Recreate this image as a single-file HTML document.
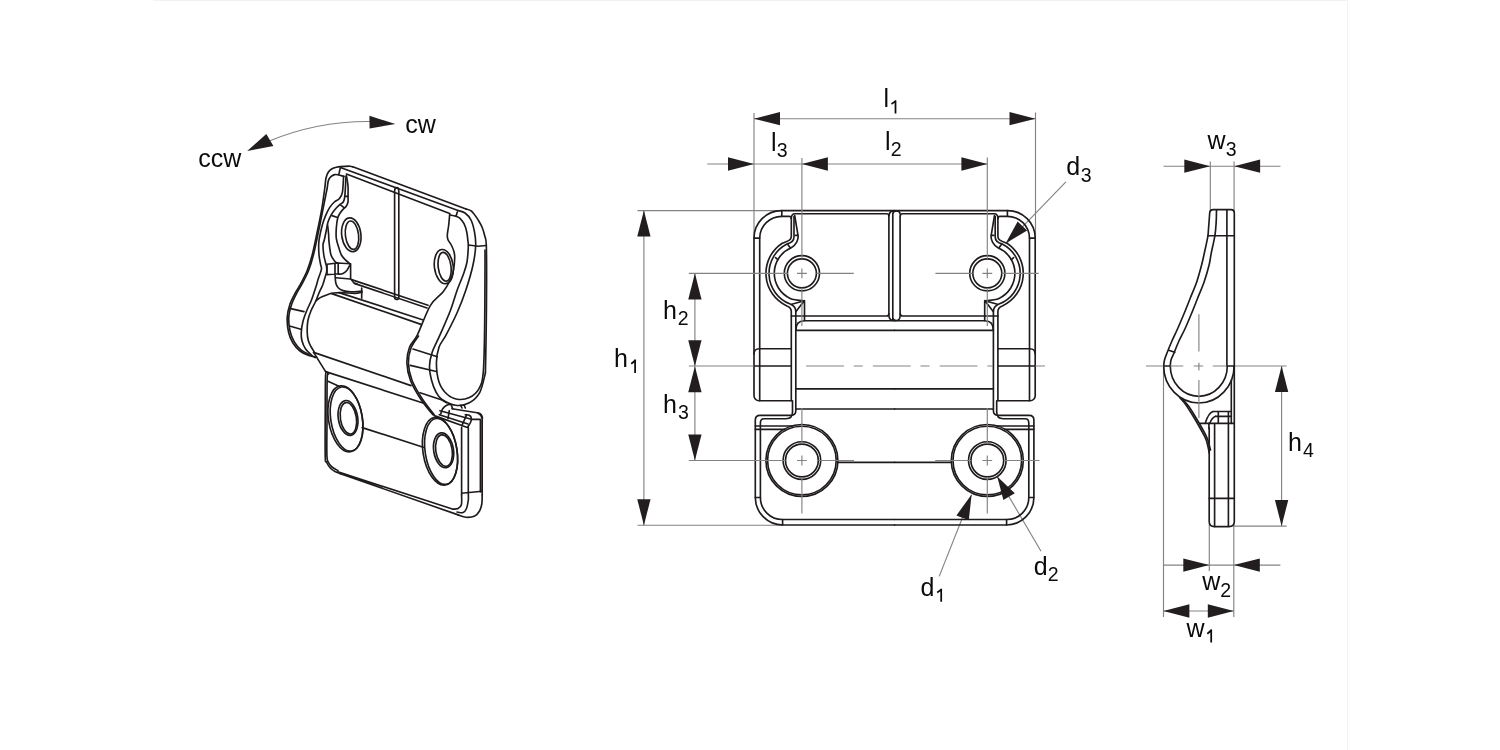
<!DOCTYPE html>
<html><head><meta charset="utf-8"><title>Hinge drawing</title><style>
html,body{margin:0;padding:0;background:#fff;}
body{width:1500px;height:750px;overflow:hidden;position:relative;}
svg{position:absolute;left:0;top:0;will-change:transform;}
.k{fill:none;stroke:#1f1b1c;stroke-width:1.65;stroke-linecap:round;stroke-linejoin:round;}
.g{fill:none;stroke:#838383;stroke-width:1.15;}
.a{fill:#221e1f;stroke:none;}
text{font-family:"Liberation Sans",sans-serif;font-size:25px;fill:#0d0a0b;}
text.w{font-size:25px;}
.one{fill:none;stroke:#0d0a0b;stroke-width:1.75;}
text.s{font-size:19.5px;}
text.r{font-size:25px;}
.frame{position:absolute;left:153px;top:0;width:1194px;height:1px;background:#f2f2f2;}
.frame2{position:absolute;left:1347px;top:0;width:1px;height:750px;background:#f3f3f3;}
</style></head>
<body><div class="frame"></div><div class="frame2"></div>
<svg width="1500" height="750" viewBox="0 0 1500 750">
<g id="dims"><line class="g" x1="754.00" y1="118.70" x2="1035.50" y2="118.70"/>
<line class="g" x1="754.00" y1="113.00" x2="754.00" y2="238.00"/>
<line class="g" x1="1035.50" y1="112.50" x2="1035.50" y2="238.00"/>
<polygon class="a" points="754.00,118.70 780.00,112.05 780.00,125.35"/>
<polygon class="a" points="1035.50,118.70 1009.50,125.35 1009.50,112.05"/>
<line class="g" x1="707.30" y1="164.00" x2="987.40" y2="164.00"/>
<polygon class="a" points="754.00,164.00 728.00,170.65 728.00,157.35"/>
<polygon class="a" points="801.90,164.00 827.90,157.35 827.90,170.65"/>
<polygon class="a" points="987.40,164.00 961.40,170.65 961.40,157.35"/>
<line class="g" x1="643.90" y1="210.50" x2="643.90" y2="525.50"/>
<line class="g" x1="637.50" y1="210.60" x2="781.50" y2="210.60"/>
<line class="g" x1="637.50" y1="525.20" x2="782.80" y2="525.20"/>
<polygon class="a" points="643.90,210.60 650.55,236.60 637.25,236.60"/>
<polygon class="a" points="643.90,525.20 637.25,499.20 650.55,499.20"/>
<line class="g" x1="694.90" y1="273.30" x2="694.90" y2="460.50"/>
<polygon class="a" points="694.90,273.30 701.55,299.50 688.25,299.50"/>
<polygon class="a" points="694.90,366.30 688.25,340.30 701.55,340.30"/>
<polygon class="a" points="694.90,366.30 701.55,392.30 688.25,392.30"/>
<polygon class="a" points="694.90,460.50 688.25,434.50 701.55,434.50"/>
<line class="g" x1="1065.90" y1="181.80" x2="1006.50" y2="243.40"/>
<polygon class="a" points="1005.70,243.30 1017.62,221.38 1027.18,230.62"/>
<line class="g" x1="939.20" y1="576.40" x2="971.60" y2="494.60"/>
<polygon class="a" points="971.60,494.60 968.80,520.21 956.40,515.39"/>
<line class="g" x1="1041.00" y1="551.20" x2="997.20" y2="476.60"/>
<polygon class="a" points="997.20,476.60 1014.81,493.20 1003.39,500.00"/>
<line class="g" x1="1163.60" y1="166.20" x2="1280.50" y2="166.20"/>
<polygon class="a" points="1210.30,166.20 1184.30,172.85 1184.30,159.55"/>
<polygon class="a" points="1234.10,166.20 1260.10,159.55 1260.10,172.85"/>
<line class="g" x1="1210.30" y1="161.40" x2="1210.30" y2="212.00"/>
<line class="g" x1="1234.10" y1="161.40" x2="1234.10" y2="212.00"/>
<line class="g" x1="1163.40" y1="565.10" x2="1280.40" y2="565.10"/>
<polygon class="a" points="1209.30,565.10 1183.30,571.75 1183.30,558.45"/>
<polygon class="a" points="1233.80,565.10 1259.80,558.45 1259.80,571.75"/>
<line class="g" x1="1163.40" y1="611.00" x2="1233.80" y2="611.00"/>
<polygon class="a" points="1163.40,611.00 1189.40,604.35 1189.40,617.65"/>
<polygon class="a" points="1233.80,611.00 1207.80,617.65 1207.80,604.35"/>
<line class="g" x1="1163.50" y1="366.00" x2="1163.50" y2="617.00"/>
<line class="g" x1="1209.30" y1="524.00" x2="1209.30" y2="571.00"/>
<line class="g" x1="1233.80" y1="524.00" x2="1233.80" y2="617.00"/>
<line class="g" x1="1281.60" y1="366.00" x2="1281.60" y2="526.10"/>
<polygon class="a" points="1281.60,366.00 1288.25,392.00 1274.95,392.00"/>
<polygon class="a" points="1281.60,526.10 1274.95,500.10 1288.25,500.10"/>
<line class="g" x1="1234.00" y1="526.10" x2="1286.60" y2="526.10"/>
<line class="g" x1="1234.00" y1="366.00" x2="1286.60" y2="366.00"/>
<path class="g" d="M268,141.5 C300,128 335,121 372,121.5"/>
<polygon class="a" points="247.2,150.9 266.3,134.1 273.4,145.9"/>
<polygon class="a" points="395.4,124.1 369.4,115.7 369.6,128.4"/></g>
<g id="front"><g id="FL"><path class="k" d="M894.6,210.6 H781.5 A27.5,27.5 0 0 0 754,238.1 V395.7 A5,5 0 0 0 759,400.7 H791.3"/><path class="k" d="M754,238.1 H759.7 M781.8,210.6 V216.3"/><path class="k" d="M759.7,400.7 V238.1 A22,22 0 0 1 781.7,216.3 H789.3 Q791.3,216.3 791.3,218.5"/><path class="k" d="M791.3,218.5 Q791.3,213.7 795,213.7 H886.6 Q888.9,213.7 888.9,216"/><path class="k" d="M791.3,218.5 V236.5 C791.3,240.5 787.5,241.2 782.2,243.2 A36,36 0 0 0 786.9,306 C789.5,307 791.3,308 791.3,311.5 V400.7"/><path class="k" d="M794,216.5 V236.7 C794,240.5 791,243 787,243.9 A33,33 0 0 0 790.2,304.1 C793.7,305.5 795.8,308 795.8,311.7 V410.7 Q795.8,415.3 791,415.3 H760 Q755.3,415.3 755.3,420 V497.5 A27.5,27.5 0 0 0 782.8,525 H894.6"/><path class="k" d="M794.7,215.5 L798,235.3 C798.8,239.5 796,245 791.2,247.8 A27.7,27.7 0 0 0 790.25,298.4 C793,299.8 798,300.2 804.3,300.7"/><path class="k" d="M791.8,304.2 L804.3,300.7 L795.8,311.7 M804.5,300.7 V320.7"/><path class="k" d="M795.3,235.3 H797.9 M788,244.7 L790,247.5 M775.6,257.6 L777.8,259.6"/><path class="k" d="M791.3,316 H886.6 Q888.9,316 888.9,313.7"/><path class="k" d="M795.8,330.3 Q795.8,320.7 804.5,320.7 H894.6 M795.8,330.3 H894.6"/><path class="k" d="M795.8,388.8 H894.6 M795.8,409 H894.6"/><path class="k" d="M754,354 Q754,348.7 759.3,348.7 H791.3 M754,366 H791.3"/><path class="k" d="M792.5,400.7 V412 Q792.5,418.7 786,418.7 H764 Q760.4,418.7 760.4,423 V497.5 A22,22 0 0 0 782.4,519.5 H894.6"/><path class="k" d="M755.3,426 H792.8 M755.3,429.3 H784.7"/><path class="k" d="M755.3,497.5 H760.4 M782.6,519.5 V525"/><circle class="k" cx="801.9" cy="273.3" r="17.6"/><circle class="k" cx="801.9" cy="273.3" r="14.5"/><circle class="k" cx="801.9" cy="460.5" r="36"/><circle class="k" cx="801.9" cy="460.5" r="34.3"/><circle class="k" cx="801.9" cy="460.5" r="18.8"/><circle class="k" cx="801.9" cy="460.5" r="16.4"/><path class="k" d="M837.9,462.3 H894.6"/><path class="g" d="M797,273.3 H806.8 M801.9,268.4 V278.2 M816.5,273.3 H853.8 M801.9,287.8 V326"/><path class="g" d="M797,460.5 H806.8 M801.9,455.6 V465.4 M818.3,460.5 H854 M801.9,408 V444 M801.9,477 V513.4"/><path class="g" d="M787.3,273.3 H784"/></g>
<use href="#FL" transform="matrix(-1 0 0 1 1789.2 0)"/>
<path class="k" d="M888.9,316 V216 Q889.3,211.5 892.8,211 M892.8,320.3 V213.8 Q893.5,210.9 896.5,210.9 Q899.8,210.9 900.1,214 M900.1,216 V316 M888.9,316 Q889.5,320.3 892.8,320.5 M892.8,318 Q893.5,320.5 896.5,320.5 Q899.8,320.5 900.1,316"/>
<path class="g" d="M688.8,273.3 H787.7 M801.9,158 V258.8"/>
<path class="g" d="M1001.7,273.3 H1038.7 M987.3,157.6 V258.8"/>
<path class="g" d="M688.8,460.5 H785.5 M1004,460.5 H1039.6"/>
<path class="g" d="M688.8,366 H754 M1035.2,366 H1045"/>
<path class="g" stroke-dasharray="37.8 9.8 9.1 10.1" d="M806.1,366 H993"/></g>
<g id="side"><path class="k" d="M1208,235.7 L1209.7,213 Q1209.9,209.6 1213.2,209.6 H1231 Q1234.3,209.6 1234.3,213 V521.5 Q1234.3,526.6 1229,526.6 H1214.5 Q1209.2,526.6 1209.2,521.5 V428"/>
<path class="k" d="M1216.5,210 Q1216.4,226 1214.9,235.7 M1226.9,210 V366"/>
<path class="k" d="M1208.7,235.7 H1234.3"/>
<path class="k" d="M1208.00,235.70 C1207.73,237.03 1207.02,240.77 1206.40,243.70 C1205.78,246.63 1205.10,249.75 1204.30,253.30 C1203.50,256.85 1202.87,260.22 1201.60,265.00 C1200.33,269.78 1198.58,276.50 1196.70,282.00 C1194.82,287.50 1192.43,292.67 1190.30,298.00 C1188.17,303.33 1186.03,308.83 1183.90,314.00 C1181.77,319.17 1179.57,324.33 1177.50,329.00 C1175.43,333.67 1173.25,338.00 1171.50,342.00 C1169.75,346.00 1168.17,350.00 1167.00,353.00 C1165.83,356.00 1165.05,357.83 1164.50,360.00 C1163.95,362.17 1163.83,365.00 1163.70,366.00 A35.2,37 0 0 0 1234.1,366"/>
<path class="k" d="M1214.90,235.70 C1214.63,237.03 1213.92,240.77 1213.30,243.70 C1212.68,246.63 1211.90,249.75 1211.20,253.30 C1210.50,256.85 1210.28,260.22 1209.10,265.00 C1207.92,269.78 1206.00,276.50 1204.10,282.00 C1202.20,287.50 1199.83,292.67 1197.70,298.00 C1195.57,303.33 1193.43,308.83 1191.30,314.00 C1189.17,319.17 1187.03,324.33 1184.90,329.00 C1182.77,333.67 1180.32,338.00 1178.50,342.00 C1176.68,346.00 1175.25,350.00 1174.00,353.00 C1172.75,356.00 1171.62,357.83 1171.00,360.00 C1170.38,362.17 1170.42,365.00 1170.30,366.00 A28.5,30.3 0 0 0 1227.3,366"/>
<path class="k" d="M1168.7,350.3 L1174.8,352.3"/>
<path class="k" d="M1231.3,380 V423.3"/>
<path class="k" d="M1180.10,398.00 C1181.08,399.15 1183.77,401.78 1186.00,404.90 C1188.23,408.02 1191.02,412.60 1193.50,416.70 C1195.98,420.80 1198.77,425.60 1200.90,429.50 C1203.03,433.40 1204.90,436.18 1206.30,440.10 C1207.70,444.02 1208.80,450.85 1209.30,453.00"/>
<path class="k" d="M1182.50,399.50 C1183.50,400.58 1186.33,403.08 1188.50,406.00 C1190.67,408.92 1193.17,413.17 1195.50,417.00 C1197.83,420.83 1200.50,425.33 1202.50,429.00 C1204.50,432.67 1206.17,435.50 1207.50,439.00 C1208.83,442.50 1210.00,448.17 1210.50,450.00"/>
<path class="k" d="M1213,411.5 H1231.3 M1215.7,416.3 H1231.3 M1199.9,423.3 H1234 M1218.3,411.5 V423.3 M1228.4,411.5 V526 M1214.6,423.3 V526.6"/>
<path class="k" d="M1213,411.5 Q1208.5,413 1205.5,422.5 M1215.7,416.3 Q1212,417.5 1209.8,423.3 M1208.9,423.3 V428.5"/>
<path class="k" d="M1226.9,366 H1234 M1163.7,366 H1170.3"/>
<path class="k" d="M1209.2,498.4 H1233.8"/>
<path class="g" d="M1146,366 H1163.4 M1170.3,366 H1183.3 M1193.7,366 H1203.2 M1212.8,366 H1226.9 M1198.9,314.3 V351.5 M1198.9,362.8 V370.5 M1198.9,380 V418"/></g>
<g id="iso"><path class="k" d="M316.80,357.20 C315.47,356.93 311.60,356.63 308.80,355.60 C306.00,354.57 302.67,353.13 300.00,351.00 C297.33,348.87 294.72,345.97 292.80,342.80 C290.88,339.63 289.43,336.27 288.50,332.00 C287.57,327.73 286.95,321.87 287.20,317.20 C287.45,312.53 288.70,307.97 290.00,304.00 C291.30,300.03 293.37,296.50 295.00,293.40 C296.63,290.30 297.80,289.13 299.80,285.40 C301.80,281.67 304.93,276.07 307.00,271.00 C309.07,265.93 310.43,261.83 312.20,255.00 C313.97,248.17 316.03,237.50 317.60,230.00 C319.17,222.50 320.40,217.00 321.60,210.00 C322.80,203.00 324.07,193.33 324.80,188.00 C325.53,182.67 325.40,180.67 326.00,178.00 C326.60,175.33 327.40,173.53 328.40,172.00 C329.40,170.47 330.67,169.60 332.00,168.80 C333.33,168.00 335.00,167.57 336.40,167.20 C337.80,166.83 338.13,166.77 340.40,166.60 C342.67,166.43 347.93,166.17 350.00,166.20 C352.07,166.23 352.33,166.70 352.80,166.80"/>
<path class="k" d="M352.8,166.8 L466,209"/>
<path class="k" d="M466.00,209.00 C466.88,209.33 469.75,209.88 471.30,211.00 C472.85,212.12 474.18,214.25 475.30,215.70 C476.42,217.15 476.88,217.82 478.00,219.70 C479.12,221.58 480.87,224.28 482.00,227.00 C483.13,229.72 484.08,233.00 484.80,236.00 C485.52,239.00 486.00,237.67 486.30,245.00 C486.60,252.33 486.62,265.83 486.60,280.00 C486.58,294.17 486.40,314.50 486.20,330.00 C486.00,345.50 485.53,365.83 485.40,373.00"/>
<path class="k" d="M344.00,176.40 C343.00,176.13 339.53,175.10 338.00,174.80 C336.47,174.50 335.93,174.33 334.80,174.60 C333.67,174.87 332.27,175.43 331.20,176.40 C330.13,177.37 329.07,178.47 328.40,180.40 C327.73,182.33 327.67,185.40 327.20,188.00 C326.73,190.60 326.33,192.33 325.60,196.00 C324.87,199.67 323.93,204.33 322.80,210.00 C321.67,215.67 320.37,222.50 318.80,230.00 C317.23,237.50 315.13,248.17 313.40,255.00 C311.67,261.83 310.43,265.93 308.40,271.00 C306.37,276.07 303.18,281.63 301.20,285.40 C299.22,289.17 298.10,290.42 296.50,293.60 C294.90,296.78 292.88,300.60 291.60,304.50 C290.32,308.40 289.07,312.58 288.80,317.00 C288.53,321.42 289.08,326.87 290.00,331.00 C290.92,335.13 292.47,338.67 294.30,341.80 C296.13,344.93 298.55,347.68 301.00,349.80 C303.45,351.92 307.67,353.72 309.00,354.50"/>
<path class="k" d="M340.4,167.4 L458,210.5 M346.4,174 L449.7,213.6 M340.4,167.4 L338.8,174.6 M450.3,215 L456,216.3 L457.3,212"/>
<path class="k" d="M458.00,210.50 C459.17,210.92 462.83,211.42 465.00,213.00 C467.17,214.58 469.42,216.83 471.00,220.00 C472.58,223.17 473.72,227.78 474.50,232.00 C475.28,236.22 475.95,239.80 475.70,245.30 C475.45,250.80 474.63,257.55 473.00,265.00 C471.37,272.45 468.53,282.08 465.90,290.00 C463.27,297.92 460.52,304.98 457.20,312.50 C453.88,320.02 449.03,329.32 446.00,335.10 C442.97,340.88 440.60,342.58 439.00,347.20 C437.40,351.82 436.40,357.02 436.40,362.80 C436.40,368.58 437.27,376.70 439.00,381.90 C440.73,387.10 443.77,391.12 446.80,394.00 C449.83,396.88 453.43,398.62 457.20,399.20 C460.97,399.78 465.78,399.23 469.40,397.50 C473.02,395.77 476.60,392.85 478.90,388.80 C481.20,384.75 482.25,383.00 483.20,373.20 C484.15,363.40 484.30,347.20 484.60,330.00 C484.90,312.80 484.93,283.33 485.00,270.00 C485.07,256.67 485.00,253.33 485.00,250.00"/>
<path class="k" d="M456.00,216.30 C456.67,216.63 458.67,217.07 460.00,218.30 C461.33,219.53 462.88,221.47 464.00,223.70 C465.12,225.93 466.03,228.70 466.70,231.70 C467.37,234.70 467.73,239.15 468.00,241.70 C468.27,244.25 468.47,243.62 468.30,247.00 C468.13,250.38 467.80,257.50 467.00,262.00 C466.20,266.50 465.13,269.33 463.50,274.00 C461.87,278.67 459.40,283.87 457.20,290.00 C455.00,296.13 453.18,303.28 450.30,310.80 C447.42,318.32 442.93,328.17 439.90,335.10 C436.87,342.03 433.83,347.20 432.10,352.40 C430.37,357.60 429.60,361.70 429.50,366.30 C429.40,370.90 430.42,375.72 431.50,380.00 C432.58,384.28 434.32,388.80 436.00,392.00 C437.68,395.20 438.35,396.98 441.60,399.20 C444.85,401.42 450.87,404.72 455.50,405.30 C460.13,405.88 465.35,404.87 469.40,402.70 C473.45,400.53 477.13,397.25 479.80,392.30 C482.47,387.35 484.47,376.22 485.40,373.00"/>
<path class="k" d="M468.5,245 L478,246.3 L486.3,245.5"/>
<path class="k" d="M449.70,214.30 C449.53,216.08 449.10,221.55 448.70,225.00 C448.30,228.45 447.42,232.55 447.30,235.00 C447.18,237.45 447.33,238.03 448.00,239.70 C448.67,241.37 450.30,243.00 451.30,245.00 C452.30,247.00 453.43,249.53 454.00,251.70 C454.57,253.87 454.78,254.95 454.70,258.00 C454.62,261.05 454.23,266.33 453.50,270.00 C452.77,273.67 452.05,276.33 450.30,280.00 C448.55,283.67 446.33,287.73 443.00,292.00 C439.67,296.27 434.58,298.42 430.30,305.60 C426.02,312.78 420.77,328.17 417.30,335.10 C413.83,342.03 411.23,342.58 409.50,347.20 C407.77,351.82 406.75,357.30 406.90,362.80 C407.05,368.30 408.08,374.13 410.40,380.20 C412.72,386.27 417.03,393.43 420.80,399.20 C424.57,404.97 430.97,412.20 433.00,414.80"/>
<path class="k" d="M413,349 L437.3,356.8 M410.4,365.4 L436.4,371.5"/>
<path class="k" d="M343.60,176.40 C343.40,179.07 343.13,188.67 342.40,192.40 C341.67,196.13 340.53,197.20 339.20,198.80 C337.87,200.40 336.00,200.53 334.40,202.00 C332.80,203.47 331.07,205.33 329.60,207.60 C328.13,209.87 326.82,212.70 325.60,215.60 C324.38,218.50 323.35,221.22 322.30,225.00 C321.25,228.78 319.90,234.97 319.30,238.30 C318.70,241.63 318.75,242.22 318.70,245.00 C318.65,247.78 318.68,251.73 319.00,255.00 C319.32,258.27 320.20,262.20 320.60,264.60 C321.00,267.00 321.80,267.00 321.40,269.40 C321.00,271.80 319.07,276.23 318.20,279.00 C317.33,281.77 317.32,282.50 316.20,286.00 C315.08,289.50 313.08,295.88 311.50,300.00 C309.92,304.12 308.12,307.15 306.70,310.70 C305.28,314.25 303.90,317.75 303.00,321.30 C302.10,324.85 301.48,328.80 301.30,332.00 C301.12,335.20 301.18,337.67 301.90,340.50 C302.62,343.33 303.92,346.50 305.60,349.00 C307.28,351.50 310.40,354.07 312.00,355.50 C313.60,356.93 314.67,357.25 315.20,357.60"/>
<path class="k" d="M346.00,176.40 C345.80,179.73 345.27,192.13 344.80,196.40 C344.33,200.67 344.00,200.67 343.20,202.00 C342.40,203.33 341.33,203.20 340.00,204.40 C338.67,205.60 336.67,207.47 335.20,209.20 C333.73,210.93 332.40,212.67 331.20,214.80 C330.00,216.93 328.80,219.47 328.00,222.00 C327.20,224.53 327.02,227.00 326.40,230.00 C325.78,233.00 324.87,237.50 324.30,240.00 C323.73,242.50 323.08,242.50 323.00,245.00 C322.92,247.50 323.40,252.17 323.80,255.00 C324.20,257.83 324.93,260.00 325.40,262.00 C325.87,264.00 326.40,265.33 326.60,267.00 C326.80,268.67 326.87,270.25 326.60,272.00 C326.33,273.75 325.65,275.33 325.00,277.50 C324.35,279.67 323.70,282.42 322.70,285.00 C321.70,287.58 320.15,290.33 319.00,293.00 C317.85,295.67 317.13,298.05 315.80,301.00 C314.47,303.95 312.32,307.45 311.00,310.70 C309.68,313.95 308.53,316.95 307.90,320.50 C307.27,324.05 307.13,328.67 307.20,332.00 C307.27,335.33 307.63,338.00 308.30,340.50 C308.97,343.00 310.17,345.02 311.20,347.00 C312.23,348.98 313.95,351.50 314.50,352.40"/>
<path class="k" d="M327.60,225.00 C327.77,226.50 328.37,231.22 328.60,234.00 C328.83,236.78 328.60,238.20 329.00,241.70 C329.40,245.20 330.00,251.72 331.00,255.00 C332.00,258.28 333.93,260.07 335.00,261.40 C336.07,262.73 337.00,262.73 337.40,263.00"/>
<path class="k" d="M346.40,175.60 C346.67,177.33 347.73,182.53 348.00,186.00 C348.27,189.47 348.00,193.73 348.00,196.40 C348.00,199.07 348.27,200.40 348.00,202.00 C347.73,203.60 347.20,204.80 346.40,206.00 C345.60,207.20 344.27,208.00 343.20,209.20 C342.13,210.40 340.92,211.73 340.00,213.20 C339.08,214.67 338.32,215.48 337.70,218.00 C337.08,220.52 336.53,224.92 336.30,228.30 C336.07,231.68 335.85,234.97 336.30,238.30 C336.75,241.63 338.15,245.52 339.00,248.30 C339.85,251.08 340.33,253.08 341.40,255.00 C342.47,256.92 343.93,258.33 345.40,259.80 C346.87,261.27 349.40,263.13 350.20,263.80"/>
<path class="k" d="M344.8,196.4 L348,196.4 M340.8,205.2 L344,207.6 M332,215.6 L336.8,217.2"/>
<path class="k" d="M327,264.2 L337.4,263 L350.2,263.8 M327,274.6 L338.2,273.8 M327,264.2 V274.6 M335,264 V274 M338.2,263 V274 M350.6,263.8 V279"/>
<path class="k" d="M338.60,274.20 C339.33,274.07 341.60,274.07 343.00,273.40 C344.40,272.73 345.80,271.67 347.00,270.20 C348.20,268.73 349.67,265.53 350.20,264.60"/>
<path class="k" d="M335.00,274.60 C335.13,276.00 335.27,280.80 335.80,283.00 C336.33,285.20 337.00,286.53 338.20,287.80 C339.40,289.07 340.87,289.93 343.00,290.60 C345.13,291.27 347.83,291.73 351.00,291.80 C354.17,291.87 360.17,291.13 362.00,291.00"/>
<path class="k" d="M335.8,277.8 L350.2,279"/>
<path class="k" d="M289.6,308.4 L304,311.6 M289.6,326 L300.8,329.2"/>
<ellipse class="k" cx="351.3" cy="234.8" rx="9.6" ry="17" transform="rotate(-7 351.3 234.8)"/>
<ellipse class="k" cx="352" cy="235.2" rx="6.6" ry="14.3" transform="rotate(-7 352 235.2)"/>
<ellipse class="k" cx="443.8" cy="266.6" rx="9.4" ry="17.2" transform="rotate(-7 443.8 266.6)"/>
<ellipse class="k" cx="444.6" cy="266.8" rx="6.4" ry="14.5" transform="rotate(-7 444.6 266.8)"/>
<path class="k" d="M394.6,297 V191 Q394.6,187.6 396.8,187.6 Q398.8,187.6 398.8,191 V297.5 Q398.8,299.5 396.8,299.5 Q394.6,299.5 394.6,297"/>
<path class="k" d="M351.50,279.60 C351.92,280.17 353.08,282.30 354.00,283.00 C354.92,283.70 356.50,283.67 357.00,283.80"/>
<path class="k" d="M351.5,279.6 L428,305.2 M355,283.6 L427,308"/>
<path class="k" d="M339,292.6 L422.4,319.7 M331,293.4 L421,324.4"/>
<path class="k" d="M362.00,292.30 C360.83,292.48 358.43,293.35 355.00,293.40 C351.57,293.45 345.00,292.67 341.40,292.60 C337.80,292.53 335.53,292.73 333.40,293.00 C331.27,293.27 330.50,293.57 328.60,294.20 C326.70,294.83 323.68,296.03 322.00,296.80 C320.32,297.57 319.53,298.10 318.50,298.80 C317.47,299.50 316.25,300.63 315.80,301.00"/>
<path class="k" d="M313.6,352.4 L411,385.6"/>
<path class="k" d="M313.6,352.4 L325.6,371.6"/>
<path class="k" d="M361.7,288 V298.2"/>
<path class="k" d="M325.6,371.6 L423,403"/>
<path class="k" d="M327.00,372.00 C326.77,372.50 325.88,370.33 325.60,375.00 C325.32,379.67 325.37,386.62 325.30,400.00 C325.23,413.38 325.00,444.97 325.20,455.30 C325.40,465.63 325.65,459.88 326.50,462.00 C327.35,464.12 328.88,466.42 330.30,468.00 C331.72,469.58 333.32,470.55 335.00,471.50 C336.68,472.45 339.50,473.33 340.40,473.70"/>
<path class="k" d="M328.60,374.00 C328.37,374.67 327.47,370.33 327.20,378.00 C326.93,385.67 327.05,407.17 327.00,420.00 C326.95,432.83 326.65,447.92 326.90,455.00 C327.15,462.08 327.65,460.50 328.50,462.50 C329.35,464.50 330.43,465.67 332.00,467.00 C333.57,468.33 336.92,469.92 337.90,470.50"/>
<path class="k" d="M340.4,473.7 L458.2,514.9 M337.9,471.8 L453.1,509.2"/>
<path class="k" d="M458.20,514.90 C459.50,515.30 463.25,517.10 466.00,517.30 C468.75,517.50 472.45,517.15 474.70,516.10 C476.95,515.05 478.32,513.02 479.50,511.00 C480.68,508.98 481.35,506.67 481.80,504.00 C482.25,501.33 482.13,496.50 482.20,495.00"/>
<path class="k" d="M453.10,509.20 C453.92,509.08 456.62,509.25 458.00,508.50 C459.38,507.75 460.80,506.95 461.40,504.70 C462.00,502.45 461.57,496.62 461.60,495.00"/>
<path class="k" d="M457.00,512.00 C458.00,512.10 461.42,513.18 463.00,512.60 C464.58,512.02 465.62,510.60 466.50,508.50 C467.38,506.40 468.00,502.53 468.30,500.00 C468.60,497.47 468.30,494.42 468.30,493.30"/>
<path class="k" d="M482.2,495 V420 Q482.2,415.4 478,413.2 M480.4,492 V420"/>
<path class="k" d="M461.6,427.4 V495 M468.3,427.4 V493.3 M461.6,493.3 L482.2,491.2"/>
<path class="k" d="M434.3,415.6 L466.7,427.3 L468.3,427.4 M439.3,414.7 L468,424 M440,410.7 L471.3,419.3 L480.3,419.3"/>
<path class="k" d="M440.70,414.00 C441.03,413.12 441.70,410.15 442.70,408.70 C443.70,407.25 445.37,406.03 446.70,405.30 C448.03,404.57 450.03,404.47 450.70,404.30"/>
<path class="k" d="M452,408.7 L478.7,413 Q482,414 482.5,418"/>
<path class="k" d="M465.30,414.70 C465.97,414.80 468.30,414.75 469.30,415.30 C470.30,415.85 471.07,416.88 471.30,418.00 C471.53,419.12 471.25,420.55 470.70,422.00 C470.15,423.45 468.45,425.92 468.00,426.70"/>
<path class="k" d="M462,425.3 L466.7,414.7 M449.3,410.7 L448,418.7"/>
<path class="k" d="M451.3,405.3 L452.7,408.7 M460.7,405.3 L462,408 M464,404.7 L465.3,408"/>
<path class="k" d="M420,392.7 L442,400 L446.7,402.7"/>
<path class="k" d="M418.50,336.00 C417.25,338.00 412.68,343.50 411.00,348.00 C409.32,352.50 408.25,357.67 408.40,363.00 C408.55,368.33 409.63,374.08 411.90,380.00 C414.17,385.92 418.27,392.67 422.00,398.50 C425.73,404.33 432.25,412.25 434.30,415.00"/>
<ellipse class="k" cx="345.4" cy="418.8" rx="16.9" ry="33.3" transform="rotate(-9 345.4 418.8)"/>
<ellipse class="k" cx="346.6" cy="419" rx="15.8" ry="32.4" transform="rotate(-9 346.6 419)"/>
<ellipse class="k" cx="348" cy="418" rx="9.7" ry="17.6" transform="rotate(-9 348 418)"/>
<ellipse class="k" cx="348.4" cy="418.3" rx="8" ry="15.9" transform="rotate(-9 348.4 418.3)"/>
<ellipse class="k" cx="440" cy="451.2" rx="17" ry="34.2" transform="rotate(-9 440 451.2)"/>
<ellipse class="k" cx="441.1" cy="451.4" rx="15.9" ry="33.3" transform="rotate(-9 441.1 451.4)"/>
<ellipse class="k" cx="443.6" cy="450.3" rx="9.9" ry="17.6" transform="rotate(-9 443.6 450.3)"/>
<ellipse class="k" cx="444" cy="450.6" rx="8.2" ry="15.9" transform="rotate(-9 444 450.6)"/>
<path class="k" d="M362.2,427.6 L423.3,447.3"/>
<path class="k" d="M328,381.2 L338.4,386"/></g>
<g id="labels"><text x="883.6" y="106.8">l</text>
<path class="one" d="M895.50,113.60 V100.40 M896.00,100.70 Q893.90,102.50 891.50,104.10"/>
<text x="771.0" y="150.6">l</text>
<text class="s" x="776.7" y="156.6">3</text>
<text x="885.0" y="149.8">l</text>
<text class="s" x="890.7" y="156.0">2</text>
<text x="1066.2" y="175.3">d</text>
<text class="s" x="1080.7" y="181.9">3</text>
<text x="614.1" y="366.8">h</text>
<path class="one" d="M635.10,372.90 V359.50 M635.60,359.80 Q633.50,362.20 631.20,363.80"/>
<text x="663.1" y="318.8">h</text>
<text class="s" x="677.8" y="324.8">2</text>
<text x="663.1" y="412.8">h</text>
<text class="s" x="678.0" y="419.4">3</text>
<text x="920.4" y="595.6">d</text>
<path class="one" d="M941.20,601.80 V588.80 M941.70,589.10 Q939.60,591.00 937.20,592.60"/>
<text x="1033.8" y="574.7">d</text>
<text class="s" x="1047.8" y="581.3">2</text>
<text class="w" x="1207.5" y="149.2">w</text>
<text class="s" x="1225.8" y="155.5">3</text>
<text x="1288.0" y="450.7">h</text>
<text class="s" x="1302.9" y="456.8">4</text>
<text class="w" x="1202.2" y="590.4">w</text>
<text class="s" x="1220.2" y="596.8">2</text>
<text class="w" x="1186.6" y="636.5">w</text>
<path class="one" d="M1211.20,642.60 V629.40 M1211.70,629.70 Q1209.60,632.10 1207.30,633.70"/>
<text class="r" x="198.2" y="166.7">ccw</text>
<text class="r" x="405.3" y="133.3">cw</text></g>
</svg></body></html>
